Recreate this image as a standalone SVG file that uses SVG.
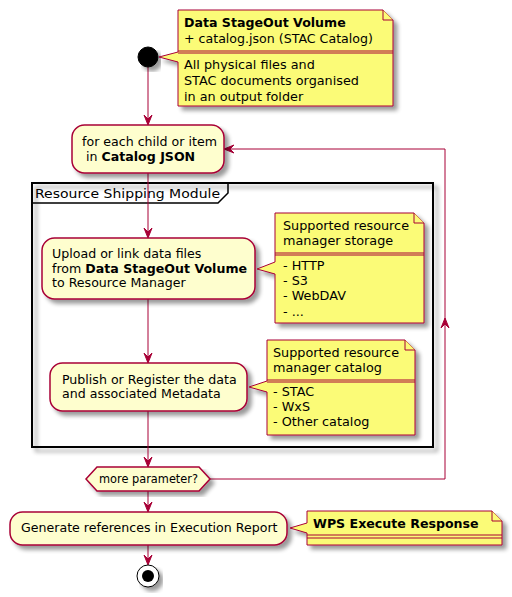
<svg xmlns="http://www.w3.org/2000/svg" width="512" height="597" viewBox="0 0 512 597">
<defs>
<filter id="sh" x="-5%" y="-5%" width="120%" height="130%">
<feGaussianBlur in="SourceAlpha" stdDeviation="2" result="b"/>
<feOffset dx="4" dy="4" in="b" result="o"/>
<feComponentTransfer in="o" result="o2"><feFuncA type="linear" slope="0.4"/></feComponentTransfer>
<feMerge><feMergeNode in="o2"/><feMergeNode in="SourceGraphic"/></feMerge>
</filter>
</defs>
<style>
text{font-family:"DejaVu Sans",Verdana,sans-serif;font-size:12.6px;fill:#000}
.n{font-size:12.8px}
.b{font-weight:bold}
.act{fill:#FEFECE;stroke:#A80036;stroke-width:1.5}
.note{fill:#FBFB77;stroke:#A80036;stroke-width:1}
.ln{fill:none;stroke:#A80036;stroke-width:1}
.ah{fill:#A80036;stroke:#A80036;stroke-width:1}
.sep{stroke:#A80036;stroke-width:1}
</style>
<rect width="512" height="597" fill="#FFFFFF"/>

<g id="frame">
<rect x="32" y="183" width="401" height="264" fill="none" stroke="#000" stroke-width="2" filter="url(#sh)"/>
<path d="M32,183 L228,183 L228,193 L218,203 L32,203" fill="none" stroke="#000" stroke-width="1.5"/>
<text x="35" y="198" font-size="15" textLength="185" lengthAdjust="spacingAndGlyphs">Resource Shipping Module</text>
</g>

<g id="connectors">
<line class="ln" x1="148" y1="67" x2="148" y2="124"/>
<polygon class="ah" points="144,115 148,125 152,115 148,119"/>
<line class="ln" x1="148" y1="173" x2="148" y2="237"/>
<polygon class="ah" points="144,228 148,238 152,228 148,232"/>
<line class="ln" x1="148" y1="299" x2="148" y2="362"/>
<polygon class="ah" points="144,353 148,363 152,353 148,357"/>
<line class="ln" x1="148" y1="411" x2="148" y2="466"/>
<polygon class="ah" points="144,457 148,467 152,457 148,461"/>
<line class="ln" x1="148" y1="491" x2="148" y2="511"/>
<polygon class="ah" points="144,502 148,512 152,502 148,506"/>
<line class="ln" x1="148" y1="545" x2="148" y2="564"/>
<polygon class="ah" points="144,555 148,565 152,555 148,559"/>
<polyline class="ln" points="210,479 445,479 445,149 225,149"/>
<polygon class="ah" points="441,328 445,318 449,328 445,324"/>
<polygon class="ah" points="234,145 224,149 234,153 230,149"/>
</g>

<g id="start">
<circle cx="148" cy="57" r="10" fill="#000" stroke="#000" filter="url(#sh)"/>
</g>

<g id="note1">
<path class="note" filter="url(#sh)" d="M178,10 L383,10 L393,20 L393,106 L178,106 L178,62 L159,57 L178,52 Z"/>
<path class="note" d="M383,10 L383,20 L393,20"/>
<line class="sep" x1="178" y1="51" x2="393" y2="51"/>
<line class="sep" x1="178" y1="53" x2="393" y2="53"/>
<text x="184" y="27" class="b" font-size="13.3">Data StageOut Volume</text>
<text x="184" y="43" font-size="13.3">+ catalog.json (STAC Catalog)</text>
<text x="184" y="69" class="n">All physical files and</text>
<text x="184" y="85" class="n">STAC documents organised</text>
<text x="184" y="101" class="n">in an output folder</text>
</g>

<g id="foreach">
<rect class="act" x="72" y="125" width="152" height="48" rx="12.5" filter="url(#sh)"/>
<text x="82" y="146">for each child or item</text>
<text x="82" y="161" xml:space="preserve"> in <tspan class="b">Catalog JSON</tspan></text>
</g>

<g id="upload">
<rect class="act" x="42" y="238" width="213" height="61" rx="12.5" filter="url(#sh)"/>
<text x="52" y="258">Upload or link data files</text>
<text x="52" y="273">from <tspan class="b">Data StageOut Volume</tspan></text>
<text x="52" y="287">to Resource Manager</text>
</g>

<g id="note2">
<path class="note" filter="url(#sh)" d="M275,213 L414,213 L424,223 L424,323 L275,323 L275,274 L257,269 L275,262 Z"/>
<path class="note" d="M414,213 L414,223 L424,223"/>
<line class="sep" x1="275" y1="253" x2="424" y2="253"/>
<line class="sep" x1="275" y1="255" x2="424" y2="255"/>
<text x="283" y="230" class="n">Supported resource</text>
<text x="283" y="245" class="n">manager storage</text>
<text x="283" y="270" class="n">- HTTP</text>
<text x="283" y="285" class="n">- S3</text>
<text x="283" y="300" class="n">- WebDAV</text>
<text x="283" y="316" class="n">- ...</text>
</g>

<g id="publish">
<rect class="act" x="50" y="363" width="197" height="48" rx="12.5" filter="url(#sh)"/>
<text x="62" y="384">Publish or Register the data</text>
<text x="62" y="398">and associated Metadata</text>
</g>

<g id="note3">
<path class="note" filter="url(#sh)" d="M267,340 L405,340 L415,350 L415,435 L267,435 L267,392 L249,387 L267,381 Z"/>
<path class="note" d="M405,340 L405,350 L415,350"/>
<line class="sep" x1="267" y1="380" x2="415" y2="380"/>
<line class="sep" x1="267" y1="382" x2="415" y2="382"/>
<text x="273" y="357" class="n">Supported resource</text>
<text x="273" y="372" class="n">manager catalog</text>
<text x="273" y="396" class="n">- STAC</text>
<text x="273" y="411" class="n">- WxS</text>
<text x="273" y="426" class="n">- Other catalog</text>
</g>

<g id="decision">
<polygon class="act" points="86,479 97,467 199,467 210,479 199,491 97,491" filter="url(#sh)"/>
<text x="99" y="483" font-size="11" textLength="99" lengthAdjust="spacingAndGlyphs">more parameter?</text>
</g>

<g id="generate">
<rect class="act" x="10" y="512" width="277" height="33" rx="12.5" filter="url(#sh)"/>
<text x="21" y="532">Generate references in Execution Report</text>
</g>

<g id="note4">
<path class="note" filter="url(#sh)" d="M307,511 L492,511 L502,521 L502,545 L307,545 L307,533 L290,528 L307,523 Z"/>
<path class="note" d="M492,511 L492,521 L502,521"/>
<line class="sep" x1="307" y1="535" x2="502" y2="535"/>
<line class="sep" x1="307" y1="538" x2="502" y2="538"/>
<text x="313" y="528" class="b" font-size="14">WPS Execute Response</text>
</g>

<g id="end">
<circle cx="148" cy="576" r="11" fill="#FFFFFF" stroke="#000" stroke-width="1" filter="url(#sh)"/>
<circle cx="148" cy="576" r="6" fill="#000"/>
</g>
</svg>
